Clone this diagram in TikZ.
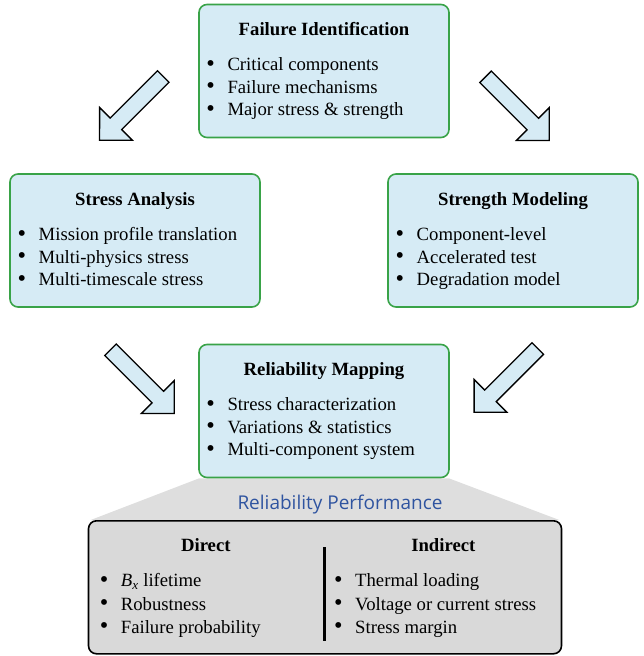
\documentclass[tikz,border=0pt]{standalone}
\usepackage{fontspec}
\usepackage{graphicx}
\setmainfont{Liberation Serif}
\newfontfamily\rpsans{Open Sans}
\usetikzlibrary{shapes.arrows,backgrounds}
\definecolor{boxgreen}{RGB}{57,163,72}
\definecolor{boxblue}{RGB}{214,235,245}
\definecolor{boxgray}{RGB}{217,217,217}
\definecolor{trapgray}{RGB}{222,222,222}
\definecolor{perfblue}{RGB}{47,84,160}
\newcommand\bul{\llap{\raisebox{-0.5pt}{\scalebox{1.3}{\textbullet}}\hspace{12.5pt}}}
\tikzset{
  box/.style={draw=boxgreen, line width=1.6pt, fill=boxblue, rounded corners=8pt,
    minimum width=250pt, minimum height=133pt, inner sep=0pt},
  graybox/.style={draw=black, line width=1.6pt, fill=boxgray, rounded corners=8pt,
    minimum width=473pt, minimum height=133pt, inner sep=0pt},
  ttl/.style={font=\fontsize{18.7}{22}\selectfont\bfseries, anchor=base, inner sep=0pt},
  itm/.style={font=\fontsize{18.7}{22}\selectfont, anchor=base west, inner sep=0pt},
  barrow/.style={single arrow, draw=black, line width=1.3pt, fill=boxblue,
    minimum height=90pt, inner xsep=0pt, inner ysep=7.5pt, single arrow head extend=15pt,
    single arrow tip angle=90},
}
\begin{document}
\begin{tikzpicture}[x=1pt,y=-1pt]
\useasboundingbox (0,0) rectangle (643,656);

% boxes
\node[box] (fi) at (324,71) {};
\node[box] (sa) at (135,240.5) {};
\node[box] (sm) at (513,240.5) {};
\node[box] (rm) at (324,411) {};
\node[graybox] (bb) at (325,587.3) {};

% trapezoid connecting reliability mapping to performance box
\begin{scope}[on background layer]
\fill[trapgray] ([xshift=1pt]rm.south west) -- ([xshift=-1pt]rm.south east)
  -- ([xshift=-3pt]bb.north east) -- ([xshift=3pt]bb.north west) -- cycle;
\end{scope}

% Failure Identification
\node[ttl] (fit) at (324,35) {Failure Identification};
\node[itm] (fi1) at (227.3,70.7) {\bul Critical components};
\node[itm] (fi2) at (227.3,93.3) {\bul Failure mechanisms};
\node[itm] (fi3) at (227.3,115.9) {\bul Major stress \& strength};

% Stress Analysis
\node[ttl] (sat) at (135,205) {Stress Analysis};
\node[itm] (sa1) at (38.5,240.7) {\bul Mission profile translation};
\node[itm] (sa2) at (38.5,263.3) {\bul Multi-physics stress};
\node[itm] (sa3) at (38.5,285.9) {\bul Multi-timescale stress};

% Strength Modeling
\node[ttl] (smt) at (513,205) {Strength Modeling};
\node[itm] (sm1) at (416.5,240.7) {\bul Component-level};
\node[itm] (sm2) at (416.5,263.3) {\bul Accelerated test};
\node[itm] (sm3) at (416.5,285.9) {\bul Degradation model};

% Reliability Mapping
\node[ttl] (rmt) at (324,375) {Reliability Mapping};
\node[itm] (rm1) at (227.3,410.7) {\bul Stress characterization};
\node[itm] (rm2t) at (227.3,433.3) {\bul Variations \& statistics};
\node[itm] (rm3) at (227.3,455.9) {\bul Multi-component system};

% Reliability Performance
\node[anchor=base, inner sep=0pt, text=perfblue, font=\rpsans\fontsize{19}{22}\selectfont] (rp) at (340,509.3) {Reliability Performance};
\coordinate (vtop) at (324.3,547);
\coordinate (vbot) at (324.3,641);
\draw[line width=2.7pt] (vtop) -- (vbot);
\node[ttl] (dt) at (205.8,551.7) {Direct};
\node[ttl] (it) at (443.3,551.7) {Indirect};
\node[itm] (d1) at (120.7,586.7) {\bul\textit{B}\textsubscript{\textit{x}} lifetime};
\node[itm] (d2) at (120.7,610) {\bul Robustness};
\node[itm] (d3) at (120.7,633.3) {\bul Failure probability};
\node[itm] (i1) at (355,586.7) {\bul Thermal loading};
\node[itm] (i2) at (355,610) {\bul Voltage or current stress};
\node[itm] (i3) at (355,633.3) {\bul Stress margin};

% block arrows
\node[barrow, rotate=-135] (a1) at (134.3,105.5) {};
\node[barrow, rotate=-45] (a2) at (514.5,105.7) {};
\node[barrow, rotate=-45] (a3) at (139.5,378.7) {};
\node[barrow, rotate=-135] (a4) at (508.8,377.5) {};
\end{tikzpicture}
\end{document}
